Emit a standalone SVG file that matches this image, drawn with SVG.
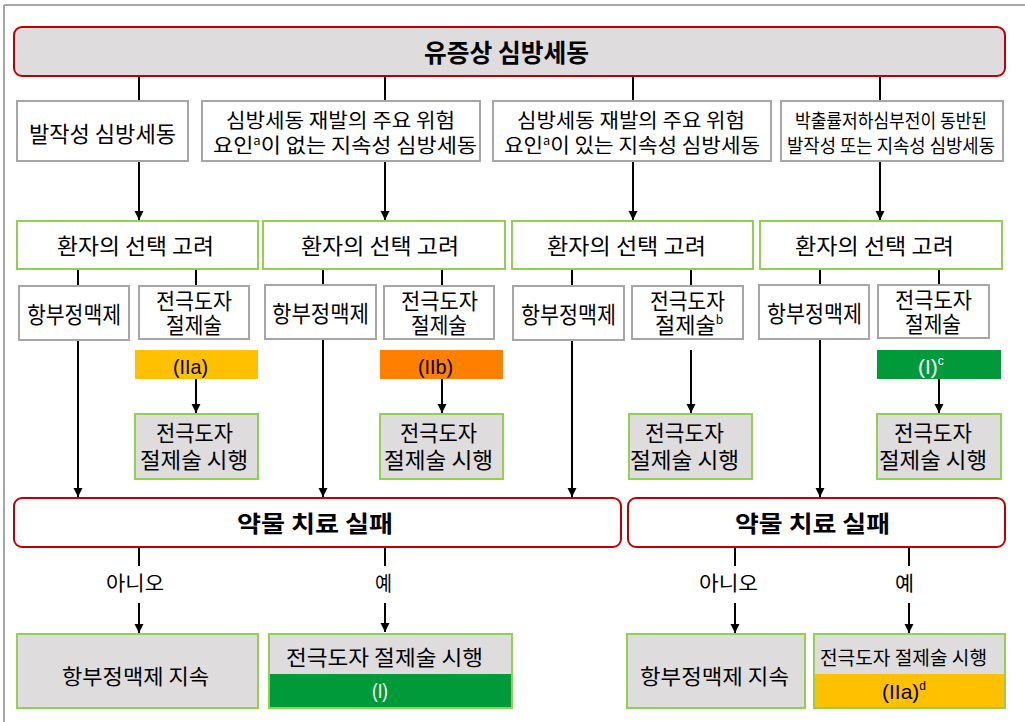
<svg xmlns="http://www.w3.org/2000/svg" width="1025" height="722" viewBox="0 0 1025 722">
<style>
.t{font-family:"Noto Sans CJK KR","Liberation Sans",sans-serif;fill:#000}
.b{font-weight:bold}
.l{font-family:"Liberation Sans","Noto Sans CJK KR",sans-serif}
.w{fill:#fff}
.red{fill:#fff;stroke:#c00000;stroke-width:2}
.redg{fill:#dedcdd;stroke:#c00000;stroke-width:2}
.gb{fill:#fff;stroke:#a6a6a6;stroke-width:2}
.gr{fill:#fff;stroke:#92d050;stroke-width:2}
.grg{fill:#dedcdd;stroke:#92d050;stroke-width:2}
.c line{stroke:#000;stroke-width:2}
.frame{stroke:#a6a6a6;stroke-width:2}
</style>
<defs>
<marker id="ah" markerUnits="userSpaceOnUse" markerWidth="9" markerHeight="10" refX="9" refY="4.5" orient="auto">
<path d="M0,0 L9,4.5 L0,9 z" fill="#000"/>
</marker>
</defs>
<rect width="1025" height="722" fill="#fff"/>
<line class="frame" x1="4" y1="5" x2="1025" y2="5"/>
<line class="frame" x1="4" y1="5" x2="4" y2="722"/>

<g id="connectors" class="c">
<line x1="139" y1="76" x2="139" y2="101"/>
<line x1="385" y1="76" x2="385" y2="101"/>
<line x1="633" y1="76" x2="633" y2="101"/>
<line x1="880" y1="76" x2="880" y2="101"/>
<line x1="139" y1="161" x2="139" y2="220" marker-end="url(#ah)"/>
<line x1="385" y1="161" x2="385" y2="220" marker-end="url(#ah)"/>
<line x1="633" y1="161" x2="633" y2="220" marker-end="url(#ah)"/>
<line x1="880" y1="161" x2="880" y2="220" marker-end="url(#ah)"/>
<line x1="78" y1="269" x2="78" y2="286"/>
<line x1="196" y1="269" x2="196" y2="286"/>
<line x1="323" y1="269" x2="323" y2="286"/>
<line x1="442" y1="269" x2="442" y2="286"/>
<line x1="572" y1="269" x2="572" y2="286"/>
<line x1="691" y1="269" x2="691" y2="286"/>
<line x1="820" y1="269" x2="820" y2="286"/>
<line x1="939" y1="269" x2="939" y2="286"/>
<line x1="196" y1="379" x2="196" y2="413" marker-end="url(#ah)"/>
<line x1="442" y1="379" x2="442" y2="413" marker-end="url(#ah)"/>
<line x1="691" y1="350" x2="691" y2="413" marker-end="url(#ah)"/>
<line x1="939" y1="379" x2="939" y2="413" marker-end="url(#ah)"/>
<line x1="78" y1="340" x2="78" y2="497" marker-end="url(#ah)"/>
<line x1="323" y1="340" x2="323" y2="497" marker-end="url(#ah)"/>
<line x1="572" y1="340" x2="572" y2="497" marker-end="url(#ah)"/>
<line x1="820" y1="340" x2="820" y2="497" marker-end="url(#ah)"/>
<line x1="139" y1="547" x2="139" y2="566"/>
<line x1="385" y1="547" x2="385" y2="566"/>
<line x1="735" y1="547" x2="735" y2="566"/>
<line x1="909" y1="547" x2="909" y2="566"/>
<line x1="139" y1="603" x2="139" y2="633" marker-end="url(#ah)"/>
<line x1="385" y1="603" x2="385" y2="632" marker-end="url(#ah)"/>
<line x1="735" y1="603" x2="735" y2="633" marker-end="url(#ah)"/>
<line x1="909" y1="603" x2="909" y2="633" marker-end="url(#ah)"/>
</g>

<g id="n-top">
<rect class="redg" x="14" y="27" width="991" height="49" rx="8"/>
<text class="t b" x="424" y="62" font-size="25" textLength="165" lengthAdjust="spacingAndGlyphs">유증상 심방세동</text>
</g>

<g id="n-r2-1">
<rect class="gb" x="17" y="101" width="171" height="60"/>
<text class="t" x="29" y="142" font-size="22" textLength="147" lengthAdjust="spacingAndGlyphs">발작성 심방세동</text>
</g>
<g id="n-r2-2">
<rect class="gb" x="202" y="101" width="278" height="60"/>
<text class="t" x="226" y="128" font-size="20" textLength="229" lengthAdjust="spacingAndGlyphs">심방세동 재발의 주요 위험</text>
<text class="t" x="213" y="153" font-size="20" textLength="264" lengthAdjust="spacingAndGlyphs">요인<tspan font-size="12" dy="-8">a</tspan><tspan dy="8">이 없는 지속성 심방세동</tspan></text>
</g>
<g id="n-r2-3">
<rect class="gb" x="493" y="101" width="278" height="60"/>
<text class="t" x="517" y="128" font-size="20" textLength="228" lengthAdjust="spacingAndGlyphs">심방세동 재발의 주요 위험</text>
<text class="t" x="504" y="153" font-size="20" textLength="256" lengthAdjust="spacingAndGlyphs">요인<tspan font-size="12" dy="-8">a</tspan><tspan dy="8">이 있는 지속성 심방세동</tspan></text>
</g>
<g id="n-r2-4">
<rect class="gb" x="781" y="101" width="222" height="60"/>
<text class="t" x="795" y="128" font-size="19" textLength="192" lengthAdjust="spacingAndGlyphs">박출률저하심부전이 동반된</text>
<text class="t" x="787" y="153" font-size="19" textLength="208" lengthAdjust="spacingAndGlyphs">발작성 또는 지속성 심방세동</text>
</g>

<g id="n-c1">
<rect class="gr" x="17" y="221" width="241" height="48"/>
<text class="t" x="57" y="254" font-size="22" textLength="157" lengthAdjust="spacingAndGlyphs">환자의 선택 고려</text>
</g>
<g id="n-c2">
<rect class="gr" x="263" y="221" width="242" height="48"/>
<text class="t" x="301" y="254" font-size="22" textLength="158" lengthAdjust="spacingAndGlyphs">환자의 선택 고려</text>
</g>
<g id="n-c3">
<rect class="gr" x="512" y="221" width="241" height="48"/>
<text class="t" x="547" y="254" font-size="22" textLength="159" lengthAdjust="spacingAndGlyphs">환자의 선택 고려</text>
</g>
<g id="n-c4">
<rect class="gr" x="760" y="221" width="242" height="48"/>
<text class="t" x="795" y="254" font-size="22" textLength="159" lengthAdjust="spacingAndGlyphs">환자의 선택 고려</text>
</g>

<g id="n-aa1">
<rect class="gb" x="19" y="286" width="110" height="54"/>
<text class="t" x="27" y="323" font-size="23" textLength="94" lengthAdjust="spacingAndGlyphs">항부정맥제</text>
</g>
<g id="n-ab1">
<rect class="gb" x="139" y="286" width="110" height="53"/>
<text class="t" x="156" y="309" font-size="22" textLength="76" lengthAdjust="spacingAndGlyphs">전극도자</text>
<text class="t" x="166" y="333" font-size="22" textLength="56" lengthAdjust="spacingAndGlyphs">절제술</text>
</g>
<g id="n-aa2">
<rect class="gb" x="265" y="285" width="111" height="54"/>
<text class="t" x="272" y="322" font-size="23" textLength="97" lengthAdjust="spacingAndGlyphs">항부정맥제</text>
</g>
<g id="n-ab2">
<rect class="gb" x="384" y="286" width="110" height="53"/>
<text class="t" x="401" y="309" font-size="22" textLength="77" lengthAdjust="spacingAndGlyphs">전극도자</text>
<text class="t" x="411" y="333" font-size="22" textLength="56" lengthAdjust="spacingAndGlyphs">절제술</text>
</g>
<g id="n-aa3">
<rect class="gb" x="513" y="286" width="111" height="54"/>
<text class="t" x="521" y="323" font-size="23" textLength="95" lengthAdjust="spacingAndGlyphs">항부정맥제</text>
</g>
<g id="n-ab3">
<rect class="gb" x="632" y="286" width="111" height="53"/>
<text class="t" x="650" y="309" font-size="22" textLength="75" lengthAdjust="spacingAndGlyphs">전극도자</text>
<text class="t" x="655" y="333" font-size="22">절제술<tspan font-size="12" dy="-9">b</tspan></text>
</g>
<g id="n-aa4">
<rect class="gb" x="759" y="285" width="110" height="54"/>
<text class="t" x="767" y="322" font-size="23" textLength="95" lengthAdjust="spacingAndGlyphs">항부정맥제</text>
</g>
<g id="n-ab4">
<rect class="gb" x="878" y="285" width="111" height="53"/>
<text class="t" x="895" y="308" font-size="22" textLength="77" lengthAdjust="spacingAndGlyphs">전극도자</text>
<text class="t" x="905" y="332" font-size="22" textLength="56" lengthAdjust="spacingAndGlyphs">절제술</text>
</g>

<g id="n-band1">
<rect x="135" y="350" width="123" height="29" fill="#ffc000"/>
<text class="t l" x="173" y="374" font-size="21" textLength="35" lengthAdjust="spacingAndGlyphs">(IIa)</text>
</g>
<g id="n-band2">
<rect x="380" y="350" width="123" height="29" fill="#ff8000"/>
<text class="t l" x="418" y="374" font-size="21" textLength="35" lengthAdjust="spacingAndGlyphs">(IIb)</text>
</g>
<g id="n-band4">
<rect x="877" y="350" width="124" height="29" fill="#009a3a"/>
<text class="t l w" x="918" y="374" font-size="21">(I)<tspan font-size="12" dy="-9">c</tspan></text>
</g>

<g id="n-do1">
<rect class="grg" x="135" y="414" width="123" height="65"/>
<text class="t" x="156" y="441" font-size="22" textLength="77" lengthAdjust="spacingAndGlyphs">전극도자</text>
<text class="t" x="140" y="468" font-size="22" textLength="108" lengthAdjust="spacingAndGlyphs">절제술 시행</text>
</g>
<g id="n-do2">
<rect class="grg" x="380" y="414" width="123" height="65"/>
<text class="t" x="400" y="441" font-size="22" textLength="77" lengthAdjust="spacingAndGlyphs">전극도자</text>
<text class="t" x="384" y="468" font-size="22" textLength="109" lengthAdjust="spacingAndGlyphs">절제술 시행</text>
</g>
<g id="n-do3">
<rect class="grg" x="629" y="414" width="123" height="65"/>
<text class="t" x="645" y="441" font-size="22" textLength="79" lengthAdjust="spacingAndGlyphs">전극도자</text>
<text class="t" x="630" y="468" font-size="22" textLength="109" lengthAdjust="spacingAndGlyphs">절제술 시행</text>
</g>
<g id="n-do4">
<rect class="grg" x="877" y="414" width="124" height="65"/>
<text class="t" x="894" y="441" font-size="22" textLength="78" lengthAdjust="spacingAndGlyphs">전극도자</text>
<text class="t" x="879" y="468" font-size="22" textLength="108" lengthAdjust="spacingAndGlyphs">절제술 시행</text>
</g>

<g id="n-fail1">
<rect class="red" x="14" y="498" width="607" height="49" rx="8"/>
<text class="t b" x="237" y="532" font-size="23" textLength="156" lengthAdjust="spacingAndGlyphs">약물 치료 실패</text>
</g>
<g id="n-fail2">
<rect class="red" x="628" y="498" width="377" height="49" rx="8"/>
<text class="t b" x="735" y="532" font-size="23" textLength="155" lengthAdjust="spacingAndGlyphs">약물 치료 실패</text>
</g>

<g id="labels">
<text class="t" x="106" y="591" font-size="20" textLength="58" lengthAdjust="spacingAndGlyphs">아니오</text>
<text class="t" x="375" y="591" font-size="20" textLength="17" lengthAdjust="spacingAndGlyphs">예</text>
<text class="t" x="699" y="591" font-size="20" textLength="59" lengthAdjust="spacingAndGlyphs">아니오</text>
<text class="t" x="895" y="591" font-size="20" textLength="19" lengthAdjust="spacingAndGlyphs">예</text>
</g>

<g id="n-cont1">
<rect class="grg" x="17" y="634" width="241" height="74"/>
<text class="t" x="62" y="684" font-size="21" textLength="147" lengthAdjust="spacingAndGlyphs">항부정맥제 지속</text>
</g>
<g id="n-abl1">
<rect x="269" y="634" width="243" height="40" fill="#dedcdd"/>
<rect x="269" y="674" width="243" height="34" fill="#009a3a"/>
<rect x="269" y="634" width="243" height="74" fill="none" stroke="#92d050" stroke-width="2"/>
<text class="t" x="286" y="665" font-size="21" textLength="197" lengthAdjust="spacingAndGlyphs">전극도자 절제술 시행</text>
<text class="t l w" x="372" y="698" font-size="21" textLength="16" lengthAdjust="spacingAndGlyphs">(I)</text>
</g>
<g id="n-cont2">
<rect class="grg" x="627" y="634" width="178" height="74"/>
<text class="t" x="640" y="684" font-size="21" textLength="149" lengthAdjust="spacingAndGlyphs">항부정맥제 지속</text>
</g>
<g id="n-abl2">
<rect x="814" y="634" width="191" height="40" fill="#dedcdd"/>
<rect x="814" y="674" width="191" height="34" fill="#ffc000"/>
<rect x="814" y="634" width="191" height="74" fill="none" stroke="#92d050" stroke-width="2"/>
<text class="t" x="820" y="665" font-size="19" textLength="167" lengthAdjust="spacingAndGlyphs">전극도자 절제술 시행</text>
<text class="t l" x="882" y="699" font-size="21">(IIa)<tspan font-size="12" dy="-9">d</tspan></text>
</g>
</svg>
